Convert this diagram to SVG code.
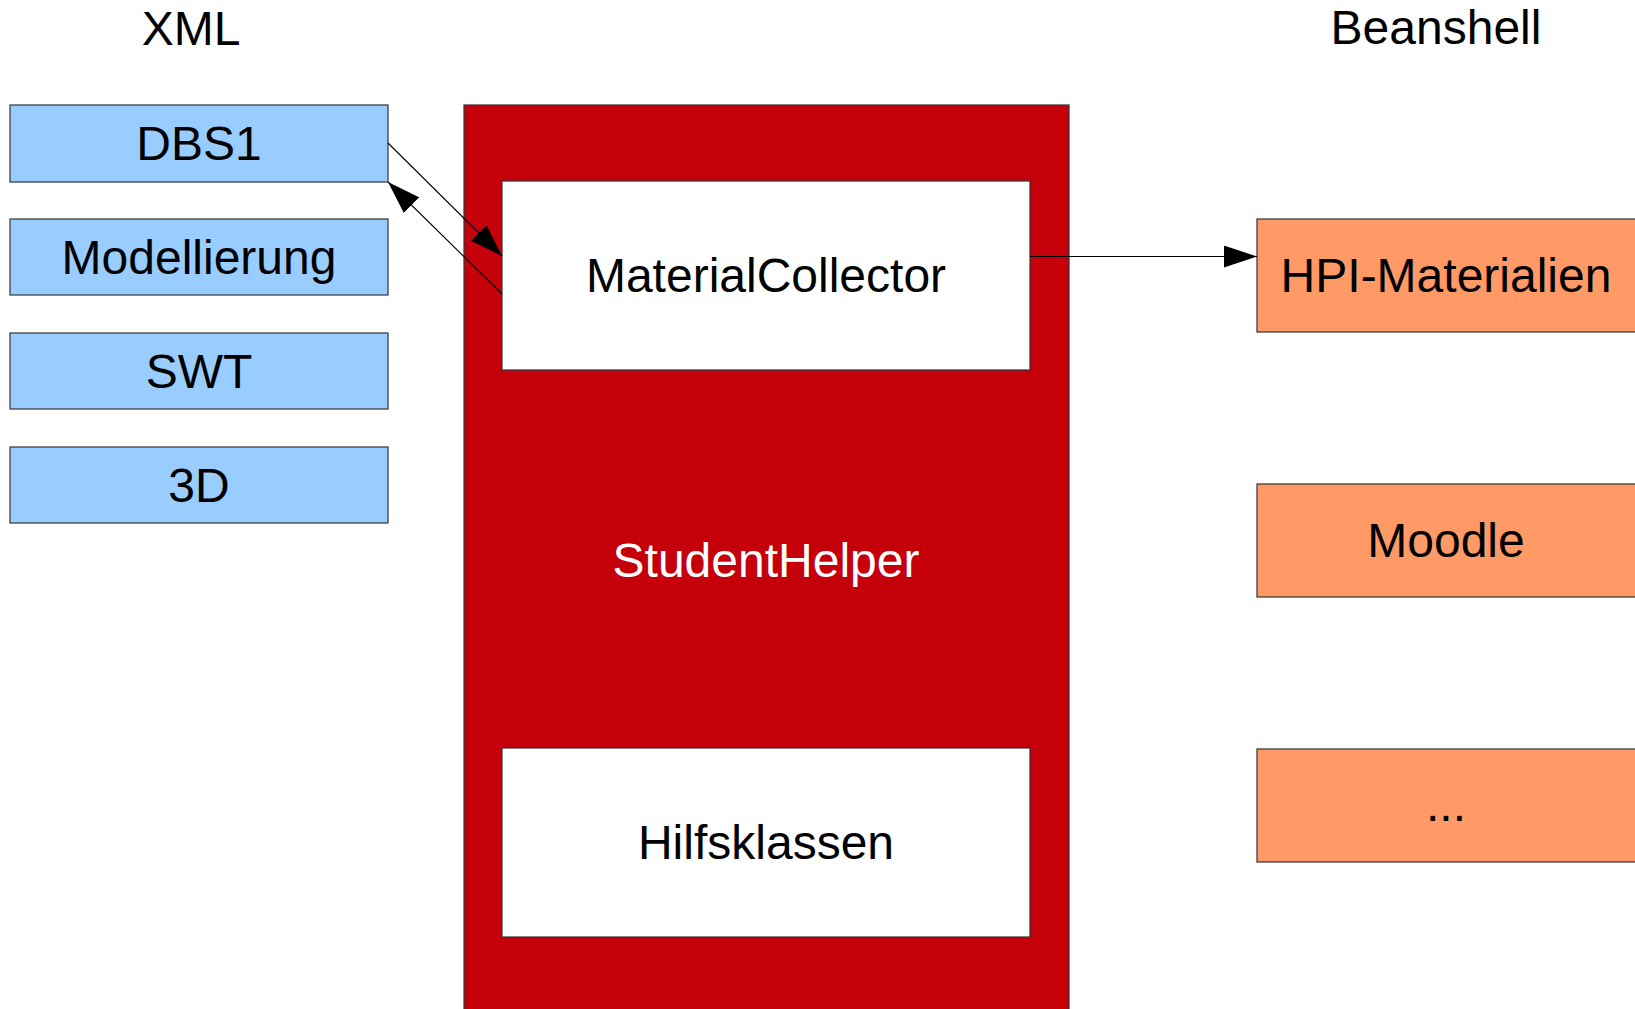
<svg xmlns="http://www.w3.org/2000/svg" width="1635" height="1009" viewBox="0 0 1635 1009">
<style>
  text { font-family: "Liberation Sans", Arial, sans-serif; font-size: 48px; text-anchor: middle; fill: #000; }
  .blue { fill: #99ccff; stroke: #333; stroke-width: 1.2; }
  .orange { fill: #ff9966; stroke: #333; stroke-width: 1.2; }
  .red { fill: #c5000b; stroke: #333; stroke-width: 1.2; }
  .white { fill: #fff; stroke: #333; stroke-width: 1.2; }
  .conn { stroke: #000; stroke-width: 1.1; fill: none; marker-end: url(#arrow); }
</style>
<defs>
  <marker id="arrow" viewBox="0 0 33 22" markerWidth="33" markerHeight="22" refX="33" refY="11" orient="auto" markerUnits="userSpaceOnUse">
    <path d="M0,0 L33,11 L0,22 z" fill="#000"/>
  </marker>
</defs>
<rect x="0" y="0" width="1635" height="1009" fill="#fff"/>
<g id="label-xml"><text x="191" y="45">XML</text></g>
<g id="label-beanshell"><text x="1436" y="44">Beanshell</text></g>
<g id="dbs1"><rect class="blue" x="10" y="105" width="378" height="77"/><text x="199" y="160">DBS1</text></g>
<g id="modellierung"><rect class="blue" x="10" y="219" width="378" height="76"/><text x="199" y="274">Modellierung</text></g>
<g id="swt"><rect class="blue" x="10" y="333" width="378" height="76"/><text x="199" y="388">SWT</text></g>
<g id="d3"><rect class="blue" x="10" y="447" width="378" height="76"/><text x="199" y="502">3D</text></g>
<g id="studenthelper"><rect class="red" x="464" y="105" width="605" height="920"/><text x="766" y="577" style="fill:#fff">StudentHelper</text></g>
<g id="materialcollector"><rect class="white" x="502" y="181" width="528" height="189"/><text x="766" y="292">MaterialCollector</text></g>
<g id="hilfsklassen"><rect class="white" x="502" y="748" width="528" height="189"/><text x="766" y="859">Hilfsklassen</text></g>
<g id="hpi"><rect class="orange" x="1257" y="219" width="390" height="113"/><text x="1446" y="292">HPI-Materialien</text></g>
<g id="moodle"><rect class="orange" x="1257" y="484" width="390" height="113"/><text x="1446" y="557">Moodle</text></g>
<g id="more"><rect class="orange" x="1257" y="749" width="390" height="113"/><text x="1446" y="821">...</text></g>
<g id="connectors">
  <line class="conn" x1="388" y1="143" x2="502" y2="256"/>
  <line class="conn" x1="502" y1="294" x2="388" y2="182"/>
  <line class="conn" x1="1030" y1="256.5" x2="1257" y2="256.5"/>
</g>
</svg>
